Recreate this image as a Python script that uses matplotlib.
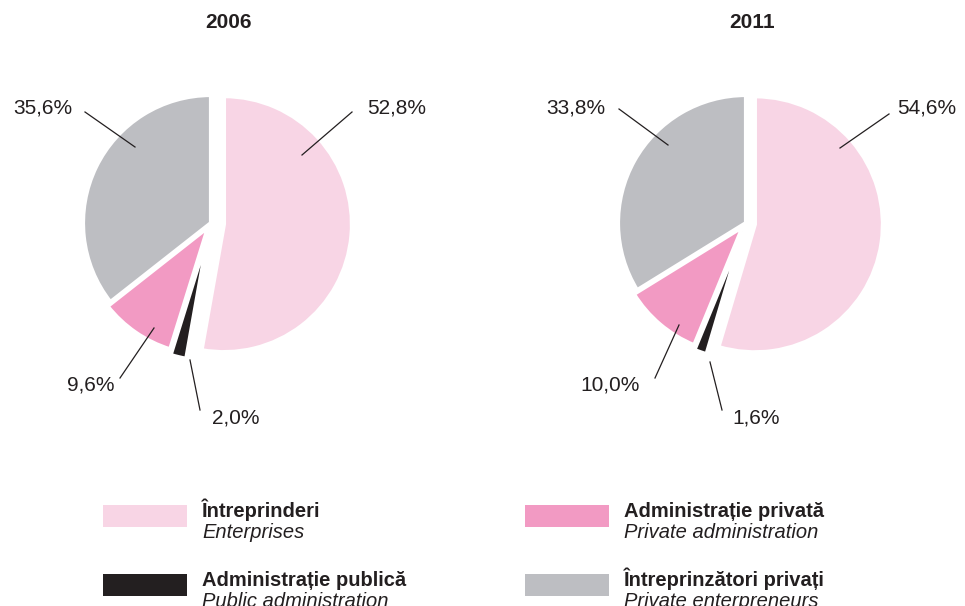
import matplotlib.pyplot as plt
from matplotlib.patches import Rectangle

plt.rcParams['font.family'] = ['Liberation Sans', 'DejaVu Sans']

# data
years = ['2006', '2011']
categories_ro = ['Întreprinderi', 'Administrație publică', 'Administrație privată', 'Întreprinzători privați']
categories_en = ['Enterprises', 'Public administration', 'Private administration', 'Private enterpreneurs']
shares_2006 = [52.8, 2.0, 9.6, 35.6]
shares_2011 = [54.6, 1.6, 10.0, 33.8]
colors = ['#F8D5E5', '#231F20', '#F29AC3', '#BDBEC2']

W, H = 965, 606
fig = plt.figure(figsize=(W / 100, H / 100), dpi=100)
ax = fig.add_axes([0, 0, 1, 1])
ax.set_xlim(0, W)
ax.set_ylim(0, H)
ax.set_aspect('equal')
ax.axis('off')

def fy(y):
    # pixel row -> axis y
    return H - y

# layout: pie centre, title x, label leader lines (start, end) and text anchors
layouts = [
    dict(cx=211, cy=223, tx=229, explode=[13, 10, 5, 0],
         lines=[((302, 155), (352, 112)), ((190, 360), (200, 410)),
                ((154, 328), (120, 378)), ((135, 147), (85, 112))],
         texts=[((367, 108), 'left'), ((212, 418), 'left'),
                ((115, 385), 'right'), ((72, 108), 'right')]),
    dict(cx=746, cy=223, tx=752, explode=[9, 9, 5, 0],
         lines=[((840, 148), (889, 114)), ((710, 362), (722, 410)),
                ((679, 325), (655, 378)), ((668, 145), (619, 109))],
         texts=[((897, 108), 'left'), ((732, 418), 'left'),
                ((640, 385), 'right'), ((605, 108), 'right')]),
]

for year, shares, lay in zip(years, [shares_2006, shares_2011], layouts):
    ax.pie(shares, colors=colors, startangle=90, counterclock=False,
           center=(lay['cx'], fy(lay['cy'])), radius=128, frame=True,
           explode=lay['explode'],
           wedgeprops=dict(edgecolor='white', linewidth=3))
    ax.text(lay['tx'], fy(22), year, ha='center', va='center',
            fontsize=15, fontweight='bold', color='#231F20')
    for v, (p1, p2), (pt, ha) in zip(shares, lay['lines'], lay['texts']):
        ax.plot([p1[0], p2[0]], [fy(p1[1]), fy(p2[1])], color='#231F20', lw=0.9)
        ax.text(pt[0], fy(pt[1]), f'{v:.1f}%'.replace('.', ','), ha=ha, va='center',
                fontsize=15, color='#231F20')

ax.set_xlim(0, W)
ax.set_ylim(0, H)

# legend
legend_pos = [(103, 505), (103, 574), (525, 505), (525, 574)]
for (lx, ly), ro, en, c in zip(legend_pos, categories_ro, categories_en, colors):
    ax.add_patch(Rectangle((lx, fy(ly + 22)), 84, 22, facecolor=c, edgecolor='none'))
    ax.text(lx + 99, fy(ly + 12), ro, ha='left', va='baseline', fontsize=14.5,
            fontweight='bold', color='#231F20')
    ax.text(lx + 99, fy(ly + 33), en, ha='left', va='baseline', fontsize=14.5,
            fontstyle='italic', color='#231F20')

fig.savefig('out.png', dpi=100)
